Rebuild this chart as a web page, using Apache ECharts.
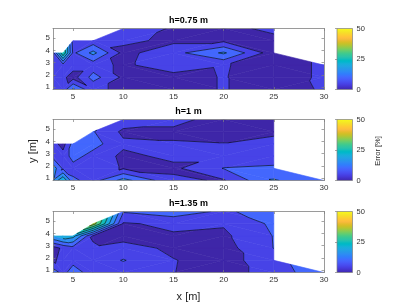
<!DOCTYPE html>
<html><head><meta charset="utf-8">
<script src="https://cdn.jsdelivr.net/npm/echarts@6/dist/echarts.min.js"></script>
<style>html,body{margin:0;padding:0;background:#fff}#c{width:411px;height:308px}</style>
</head><body><div id="c"></div>
<script>
// ---------- data ----------
const xNodes = [3, 4, 5, 7, 10, 15, 20, 25, 30];
const yNodes = [0.8, 1.8, 2.8, 3.8, 4.8, 5.8];
const titles = ['h=0.75 m', 'h=1 m', 'h=1.35 m'];
// rows: y = 0.8 ... 5.8, columns: x nodes; null = not measured
const err_h075 = [
  [8, 7, 16, 6, 4, 3, 5.3, 2.5, 5.6],
  [7, 6, 3, 12, 4, 3, 5.3, 2, 6],
  [7, 8, 7, 7, 4, 8.2, 5.5, 2, 6],
  [8, 30, 9, 16.5, 3.5, 8.2, 15.8, 2, null],
  [null, null, 8, 7, 6, 4, 4, 4, null],
  [null, null, null, null, 8, 4.5, 4, 5.8, null]
];
const err_h100 = [
  [15.5, 25, 11, 8, 17, 6, 4.5, 15.5, 11],
  [18, 9, 8, 8, 4.5, 4, 10.2, 11, null],
  [8, 7, 12, 8, 4, 6, 6, 7, null],
  [7, 3, 12, 12, 5.9, 5.4, 5.1, 6.7, null],
  [null, null, null, 10.3, 4, 4, 4, 4, null],
  [null, null, null, null, 8, 6.5, 3, 3, null]
];
const err_h135 = [
  [13, 8, 13, 7, 7, 5.1, 3, 7, 14],
  [4, 7, 8, 7, 10.3, 5.2, 3, 8, null],
  [3, 6, 8, 5.5, 7, 4, 3, 10.1, null],
  [20, 24, 22, 4.5, 3, 4.5, 4, 10.2, null],
  [null, null, null, 38, 4.5, 6, 5.5, 11, null],
  [null, null, null, null, 10.5, 13, 9, 13, null]
];
const levels = [0, 5, 10, 15, 20, 25, 30, 35, 40, 45, 50];
const xTicks = [5, 10, 15, 20, 25, 30];
const yTicks = [1, 2, 3, 4, 5];
const cbTicks = [0, 25, 50];
const cbRange = [0, 50];

// ---------- style ----------
const PARULA = [[0.2422,0.1504,0.6603],[0.2504,0.1650,0.7076],[0.2578,0.1818,0.7511],[0.2647,0.1978,0.7952],[0.2706,0.2147,0.8364],[0.2751,0.2342,0.8710],[0.2783,0.2559,0.8991],[0.2803,0.2782,0.9221],[0.2813,0.3006,0.9414],[0.2810,0.3228,0.9579],[0.2795,0.3447,0.9717],[0.2760,0.3667,0.9829],[0.2699,0.3892,0.9906],[0.2602,0.4123,0.9952],[0.2440,0.4358,0.9988],[0.2206,0.4603,0.9973],[0.1963,0.4847,0.9892],[0.1834,0.5074,0.9798],[0.1786,0.5289,0.9682],[0.1764,0.5499,0.9520],[0.1687,0.5703,0.9359],[0.1540,0.5902,0.9218],[0.1460,0.6091,0.9079],[0.1380,0.6276,0.8973],[0.1248,0.6459,0.8883],[0.1113,0.6635,0.8763],[0.0952,0.6798,0.8598],[0.0689,0.6948,0.8394],[0.0297,0.7082,0.8163],[0.0036,0.7203,0.7917],[0.0067,0.7312,0.7660],[0.0433,0.7411,0.7394],[0.0964,0.7500,0.7120],[0.1408,0.7584,0.6842],[0.1717,0.7670,0.6554],[0.1938,0.7758,0.6251],[0.2161,0.7843,0.5923],[0.2470,0.7918,0.5567],[0.2906,0.7973,0.5188],[0.3406,0.8008,0.4789],[0.3909,0.8029,0.4354],[0.4456,0.8024,0.3909],[0.5044,0.7993,0.3480],[0.5616,0.7942,0.3045],[0.6174,0.7876,0.2612],[0.6720,0.7793,0.2227],[0.7242,0.7698,0.1910],[0.7738,0.7598,0.1646],[0.8203,0.7498,0.1535],[0.8634,0.7406,0.1596],[0.9035,0.7330,0.1774],[0.9393,0.7288,0.2100],[0.9728,0.7298,0.2394],[0.9956,0.7434,0.2371],[0.9970,0.7659,0.2199],[0.9952,0.7893,0.2028],[0.9892,0.8136,0.1885],[0.9786,0.8386,0.1766],[0.9676,0.8639,0.1643],[0.9610,0.8890,0.1537],[0.9597,0.9135,0.1423],[0.9628,0.9373,0.1265],[0.9691,0.9606,0.1064],[0.9769,0.9839,0.0805]];
function parula(t){
  t = Math.max(0, Math.min(1, t));
  const f = t * 63, i = Math.min(62, Math.floor(f)), r = f - i;
  const a = PARULA[i], b = PARULA[i + 1];
  const c = [0,1,2].map(k => Math.round(255 * (a[k] + (b[k] - a[k]) * r)));
  return 'rgb(' + c.join(',') + ')';
}
const FONT = 'Liberation Sans, Arial, Helvetica, sans-serif';
const AX = '#808080', TXT = '#333333';
const plotTops = [28.5, 119.5, 211.5];
const plotH = 61;
const plotLeft = 53, plotW = 271;
const cbLeft = 337, cbW = 15.5;

// ---------- triangulation of the measurement grid ----------
function buildTriangles(Z){
  const tris = [];
  for (let j = 0; j < yNodes.length - 1; j++) for (let i = 0; i < xNodes.length - 1; i++){
    const c = [[i,j],[i+1,j],[i+1,j+1],[i,j+1]].map(([a,b]) => ({x: xNodes[a], y: yNodes[b], v: Z[b][a]}));
    const valid = c.filter(p => p.v !== null);
    if (valid.length < 3) continue;
    if (valid.length === 3){ tris.push(valid); continue; }
    const mean = (c[0].v + c[1].v + c[2].v + c[3].v) / 4;
    let k = 0, best = -1;
    c.forEach((p, idx) => { const d = Math.abs(p.v - mean); if (d > best){ best = d; k = idx; } });
    if (k === 0 || k === 2){ tris.push([c[0], c[1], c[3]]); tris.push([c[1], c[2], c[3]]); }
    else { tris.push([c[0], c[1], c[2]]); tris.push([c[0], c[2], c[3]]); }
  }
  return tris.map(t => [t[0].x, t[0].y, t[0].v, t[1].x, t[1].y, t[1].v, t[2].x, t[2].y, t[2].v]);
}
function clipPoly(pts, L, keepAbove){
  const out = [];
  for (let i = 0; i < pts.length; i++){
    const a = pts[i], b = pts[(i + 1) % pts.length];
    const ina = keepAbove ? a.v >= L : a.v <= L;
    const inb = keepAbove ? b.v >= L : b.v <= L;
    if (ina) out.push(a);
    if (ina !== inb){ const t = (L - a.v) / (b.v - a.v); out.push({x: a.x + t * (b.x - a.x), y: a.y + t * (b.y - a.y), v: L}); }
  }
  return out;
}
function triPts(api){ return [0,1,2].map(k => ({x: api.value(3*k), y: api.value(3*k+1), v: api.value(3*k+2)})); }
function renderFill(params, api){
  const P = triPts(api);
  const children = [];
  for (let b = 0; b < levels.length; b++){
    const lo = b === 0 ? -Infinity : levels[b];
    const hi = b === levels.length - 1 ? Infinity : levels[b + 1];
    let poly = clipPoly(P, lo, true);
    if (poly.length >= 3) poly = clipPoly(poly, hi, false);
    if (poly.length < 3) continue;
    const col = parula((levels[b] - cbRange[0]) / (cbRange[1] - cbRange[0]));
    children.push({type: 'polygon', shape: {points: poly.map(p => api.coord([p.x, p.y]))},
      style: {fill: col, stroke: col, lineWidth: 0.6}});
  }
  return {type: 'group', children};
}
function renderLines(params, api){
  const P = triPts(api);
  const children = [];
  for (let l = 1; l < levels.length; l++){
    const L = levels[l], pts = [];
    for (let i = 0; i < 3; i++){
      const a = P[i], b = P[(i + 1) % 3];
      if ((a.v < L && b.v > L) || (a.v > L && b.v < L)){
        const t = (L - a.v) / (b.v - a.v);
        pts.push(api.coord([a.x + t * (b.x - a.x), a.y + t * (b.y - a.y)]));
      }
    }
    if (pts.length === 2) children.push({type: 'line', shape: {x1: pts[0][0], y1: pts[0][1], x2: pts[1][0], y2: pts[1][1]},
      style: {stroke: '#000', lineWidth: 0.6}});
  }
  return {type: 'group', children};
}
function renderBar(params, api){
  const p0 = api.coord([api.value(0), api.value(1)]);
  const p1 = api.coord([api.value(2), api.value(3)]);
  return {type: 'rect', shape: {x: p0[0], y: p1[1], width: p1[0] - p0[0], height: p0[1] - p1[1]},
    style: {fill: {type: 'linear', x: 0, y: 1, x2: 0, y2: 0,
      colorStops: PARULA.map((c, i) => ({offset: i / 63, color: parula(i / 63)}))},
      stroke: AX, lineWidth: 0.7}};
}

// ---------- option ----------
const datasets = [err_h075, err_h100, err_h135];
const grid = [], xAxis = [], yAxis = [], series = [], graphic = [];
datasets.forEach((Z, g) => {
  grid.push({left: plotLeft, top: plotTops[g], width: plotW, height: plotH});
  const tick = {show: true, inside: true, length: 2.5, lineStyle: {color: AX, width: 0.7}};
  const line = {show: true, lineStyle: {color: AX, width: 0.8}};
  xAxis.push({gridIndex: g, type: 'value', min: 3, max: 30, position: 'bottom', z: 10,
    axisLine: line, axisTick: Object.assign({customValues: xTicks}, tick),
    axisLabel: {customValues: xTicks, fontSize: 8, color: TXT, margin: 3, fontFamily: FONT}, splitLine: {show: false}});
  xAxis.push({gridIndex: g, type: 'value', min: 3, max: 30, position: 'top', z: 10,
    axisLine: line, axisTick: Object.assign({customValues: xTicks}, tick),
    axisLabel: {show: false}, splitLine: {show: false}});
  yAxis.push({gridIndex: g, type: 'value', min: 0.8, max: 5.8, position: 'left', z: 10,
    axisLine: line, axisTick: Object.assign({customValues: yTicks}, tick),
    axisLabel: {customValues: yTicks, fontSize: 8, color: TXT, margin: 3, fontFamily: FONT}, splitLine: {show: false}});
  yAxis.push({gridIndex: g, type: 'value', min: 0.8, max: 5.8, position: 'right', z: 10,
    axisLine: line, axisTick: Object.assign({customValues: yTicks}, tick),
    axisLabel: {show: false}, splitLine: {show: false}});
  const tris = buildTriangles(Z);
  series.push({type: 'custom', xAxisIndex: 2*g, yAxisIndex: 2*g, data: tris, renderItem: renderFill,
    encode: {x: [0, 3, 6], y: [1, 4, 7]}, clip: true, silent: true, animation: false, z: 2});
  series.push({type: 'custom', xAxisIndex: 2*g, yAxisIndex: 2*g, data: tris, renderItem: renderLines,
    encode: {x: [0, 3, 6], y: [1, 4, 7]}, clip: true, silent: true, animation: false, z: 3});
  graphic.push({type: 'text', x: plotLeft + plotW / 2, y: plotTops[g] - 8,
    style: {text: titles[g], font: 'bold 9px ' + FONT, fill: '#000', align: 'center', verticalAlign: 'middle',
      textAlign: 'center', textVerticalAlign: 'middle'}});
});
datasets.forEach((Z, g) => {
  grid.push({left: cbLeft, top: plotTops[g], width: cbW, height: plotH});
  xAxis.push({gridIndex: 3 + g, type: 'value', min: 0, max: 1, show: false});
  yAxis.push({gridIndex: 3 + g, type: 'value', min: cbRange[0], max: cbRange[1], interval: 25, position: 'right', z: 10,
    axisLine: {show: false}, axisTick: {show: true, inside: true, length: 2, customValues: cbTicks, lineStyle: {color: AX, width: 0.7}},
    axisLabel: {customValues: cbTicks, fontSize: 7.5, color: TXT, margin: 4, fontFamily: FONT}, splitLine: {show: false}});
  series.push({type: 'custom', xAxisIndex: 6 + g, yAxisIndex: 6 + g, data: [[0, cbRange[0], 1, cbRange[1]]],
    renderItem: renderBar, encode: {x: [0, 2], y: [1, 3]}, silent: true, animation: false, z: 2});
});
graphic.push({type: 'text', x: plotLeft + plotW / 2, y: 296.5,
  style: {text: 'x [m]', font: '11px ' + FONT, fill: '#262626', align: 'center', verticalAlign: 'middle', textAlign: 'center', textVerticalAlign: 'middle'}});
graphic.push({type: 'text', x: 33, y: 151, rotation: Math.PI / 2,
  style: {text: 'y [m]', font: '11px ' + FONT, fill: '#262626', align: 'center', verticalAlign: 'middle', textAlign: 'center', textVerticalAlign: 'middle'}});
graphic.push({type: 'text', x: 378, y: 151, rotation: Math.PI / 2,
  style: {text: 'Error [%]', font: '7.5px ' + FONT, fill: '#262626', align: 'center', verticalAlign: 'middle', textAlign: 'center', textVerticalAlign: 'middle'}});

const chart = echarts.init(document.getElementById('c'), null, {renderer: 'canvas'});
chart.setOption({backgroundColor: '#fff', animation: false, textStyle: {fontFamily: FONT},
  grid, xAxis, yAxis, series, graphic});
</script></body></html>
